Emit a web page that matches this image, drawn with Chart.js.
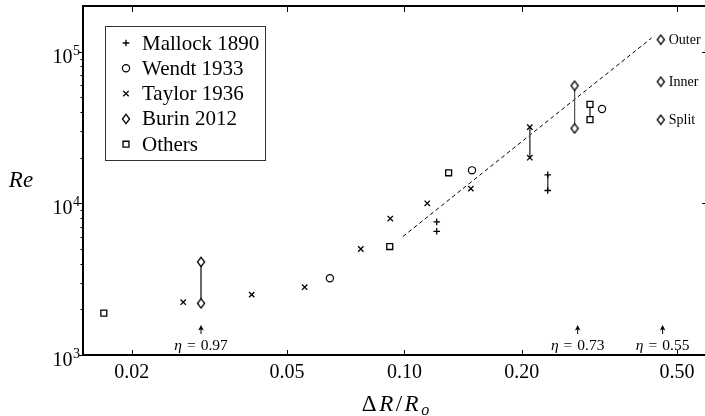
<!DOCTYPE html>
<html>
<head>
<meta charset="utf-8">
<script src="https://cdn.jsdelivr.net/npm/chart.js@4/dist/chart.umd.min.js"></script>
<style>
  html, body { margin: 0; padding: 0; background: #fff; overflow: hidden; }
  #wrap { width: 710px; height: 416px; }
</style>
</head>
<body>
<div id="wrap"><canvas id="re-chart" width="710" height="416"></canvas></div>
<script>
// Transition Reynolds number vs. relative gap width (log-log)
const mallockX = [0.121, 0.121, 0.233, 0.233];
const mallockRe = [7550, 6540, 15400, 12150];

const wendtX = [0.0644, 0.149, 0.321];
const wendtRe = [3210, 16500, 41900];

const taylorX = [0.0271, 0.0406, 0.0555, 0.0773, 0.092, 0.1144, 0.148, 0.2096, 0.2096];
const taylorRe = [2230, 2500, 2800, 5000, 7940, 10000, 12500, 31800, 20000];

const burinX = [0.0301, 0.0301, 0.273, 0.273];
const burinRe = [4110, 2190, 59700, 31200];

const othersX = [0.01696, 0.0917, 0.1298, 0.299, 0.299];
const othersRe = [1890, 5190, 15900, 44900, 35600];

// dashed trend line end points
const fitX = [0.0991, 0.430];
const fitRe = [6040, 123100];

// vertical bars joining paired measurements: [xs, ys, i, j]
const pairs = [
  [burinX, burinRe, 0, 1],
  [taylorX, taylorRe, 7, 8],
  [mallockX, mallockRe, 2, 3],
  [burinX, burinRe, 2, 3],
  [othersX, othersRe, 3, 4]
];

const seriesNames = ['Mallock 1890', 'Wendt 1933', 'Taylor 1936', 'Burin 2012', 'Others'];

const xTicks = [0.02, 0.05, 0.1, 0.2, 0.5];
const xTickLabels = ['0.02', '0.05', '0.10', '0.20', '0.50'];
const yTicks = [1e3, 1e4, 1e5];
const yMinorTicks = [2e3, 3e3, 4e3, 5e3, 6e3, 7e3, 8e3, 9e3, 2e4, 3e4, 4e4, 5e4, 6e4, 7e4, 8e4, 9e4];

// radius ratio markers
const etaX = [0.0301, 0.278, 0.459];
const etaLabels = ['0.97', '0.73', '0.55'];

// cylinder rotation key on the right
const keyX = 0.454;
const keyRe = [120000, 63400, 35600];
const keyLabels = ['Outer', 'Inner', 'Split'];

const SERIF = '"Liberation Serif", "Times New Roman", serif';

// narrow diamond marker
function makeDiamond() {
  const c = document.createElement('canvas');
  c.width = 10; c.height = 12;
  const g = c.getContext('2d');
  g.beginPath();
  g.moveTo(5, 1.3);
  g.lineTo(8.6, 6);
  g.lineTo(5, 10.7);
  g.lineTo(1.4, 6);
  g.closePath();
  g.fillStyle = '#fff';
  g.fill();
  g.lineWidth = 1.3;
  g.strokeStyle = '#000';
  g.stroke();
  return c;
}
const diamond = makeDiamond();

const markerStyles = [
  { pointStyle: 'cross', radius: 3.3, borderWidth: 1.3 },
  { pointStyle: 'circle', radius: 3.6, borderWidth: 1.2 },
  { pointStyle: 'crossRot', radius: 3.8, borderWidth: 1.3 },
  { pointStyle: diamond, radius: 5, borderWidth: 1.2 },
  { pointStyle: 'rect', radius: 4.2, borderWidth: 1.3 }
];

const toPoints = (xs, ys) => xs.map((x, i) => ({ x: x, y: ys[i] }));

const seriesData = [
  toPoints(mallockX, mallockRe),
  toPoints(wendtX, wendtRe),
  toPoints(taylorX, taylorRe),
  toPoints(burinX, burinRe),
  toPoints(othersX, othersRe)
];

const datasets = seriesData.map((data, k) => ({
  label: seriesNames[k],
  data: data,
  pointStyle: markerStyles[k].pointStyle,
  pointRadius: markerStyles[k].radius,
  pointHoverRadius: markerStyles[k].radius,
  pointBorderWidth: markerStyles[k].borderWidth,
  pointBorderColor: '#000',
  pointBackgroundColor: '#fff'
}));

pairs.forEach(p => {
  const xs = p[0], ys = p[1];
  datasets.push({
    label: 'pair',
    data: [{ x: xs[p[2]], y: ys[p[2]] }, { x: xs[p[3]], y: ys[p[3]] }],
    showLine: true,
    pointRadius: 0,
    borderColor: '#555',
    borderWidth: 1
  });
});

datasets.push({
  label: 'fit',
  data: toPoints(fitX, fitRe),
  showLine: true,
  pointRadius: 0,
  borderColor: '#000',
  borderWidth: 1,
  borderDash: [4, 3]
});

function drawMarker(ctx, k, x, y) {
  const m = markerStyles[k];
  ctx.save();
  ctx.fillStyle = '#fff';
  ctx.strokeStyle = '#000';
  ctx.lineWidth = m.borderWidth;
  Chart.helpers.drawPoint(ctx, { pointStyle: m.pointStyle, radius: m.radius, rotation: 0, borderWidth: m.borderWidth }, x, y);
  ctx.restore();
}

// axes frame, ticks, labels, legend and annotations
const decorations = {
  id: 'decorations',
  afterDraw(chart) {
    const ctx = chart.ctx;
    const a = chart.chartArea;
    const xs = chart.scales.x, ys = chart.scales.y;
    ctx.save();
    ctx.strokeStyle = '#000';
    ctx.fillStyle = '#000';

    // frame
    ctx.lineWidth = 2;
    ctx.strokeRect(a.left, a.top, a.right - a.left, a.bottom - a.top);

    // x ticks: inward on top and bottom
    ctx.lineWidth = 1;
    xTicks.forEach(v => {
      const px = Math.round(xs.getPixelForValue(v)) + 0.5;
      ctx.beginPath();
      ctx.moveTo(px, a.bottom); ctx.lineTo(px, a.bottom - 5);
      ctx.moveTo(px, a.top); ctx.lineTo(px, a.top + 6);
      ctx.stroke();
    });
    // y ticks: outward on left, inward on right
    yTicks.forEach(v => {
      const py = Math.round(ys.getPixelForValue(v)) + 0.5;
      ctx.beginPath();
      ctx.moveTo(a.left, py); ctx.lineTo(a.left - 4, py);
      ctx.moveTo(a.right, py); ctx.lineTo(a.right - 6, py);
      ctx.stroke();
    });
    yMinorTicks.forEach(v => {
      const py = Math.round(ys.getPixelForValue(v)) + 0.5;
      ctx.beginPath();
      ctx.moveTo(a.left, py); ctx.lineTo(a.left - 2.5, py);
      ctx.stroke();
    });

    // x tick labels
    ctx.font = '20px ' + SERIF;
    ctx.textAlign = 'center';
    ctx.textBaseline = 'middle';
    xTicks.forEach((v, i) => {
      ctx.fillText(xTickLabels[i], xs.getPixelForValue(v), a.bottom + 18);
    });

    // y tick labels as 10^n
    ctx.textAlign = 'right';
    ctx.textBaseline = 'alphabetic';
    yTicks.forEach(v => {
      const py = ys.getPixelForValue(v);
      const exp = String(Math.round(Math.log10(v)));
      ctx.font = '14px ' + SERIF;
      const ew = ctx.measureText(exp).width;
      ctx.fillText(exp, a.left - 3, py + 3);
      ctx.font = '20px ' + SERIF;
      ctx.fillText('10', a.left - 3 - ew - 0.5, py + 11);
    });

    // axis titles
    ctx.font = 'italic 23px ' + SERIF;
    ctx.textAlign = 'center';
    ctx.textBaseline = 'middle';
    ctx.fillText('Re', 21, (a.top + a.bottom) / 2);

    const parts = [
      ['\u0394', '23px ' + SERIF, 0],
      ['R', 'italic 23px ' + SERIF, 0],
      ['/', '23px ' + SERIF, 0],
      ['R', 'italic 23px ' + SERIF, 0],
      ['o', 'italic 16px ' + SERIF, 4]
    ];
    const gap = 2.5;
    let total = 0;
    parts.forEach(p => { ctx.font = p[1]; p.push(ctx.measureText(p[0]).width); total += p[3]; });
    total += gap * (parts.length - 1);
    let cx = (a.left + a.right) / 2 - total / 2;
    ctx.textAlign = 'left';
    ctx.textBaseline = 'alphabetic';
    parts.forEach(p => {
      ctx.font = p[1];
      ctx.fillText(p[0], cx, 411 + p[2]);
      cx += p[3] + gap;
    });

    // legend box
    const lx = 105.5, ly = 26.5, lw = 160, lh = 134;
    ctx.fillStyle = '#fff';
    ctx.fillRect(lx, ly, lw, lh);
    ctx.strokeStyle = '#333';
    ctx.lineWidth = 1;
    ctx.strokeRect(lx, ly, lw, lh);
    ctx.font = '21px ' + SERIF;
    ctx.textBaseline = 'middle';
    ctx.textAlign = 'left';
    seriesNames.forEach((name, k) => {
      const y = 43 + k * 25.3;
      drawMarker(ctx, k, 126, y);
      ctx.fillStyle = '#000';
      ctx.fillText(name, 142, y + 1);
    });

    // rotation key
    ctx.font = '14px ' + SERIF;
    keyLabels.forEach((lab, i) => {
      const px = xs.getPixelForValue(keyX);
      const py = ys.getPixelForValue(keyRe[i]);
      drawMarker(ctx, 3, px, py);
      ctx.fillStyle = '#000';
      ctx.fillText(lab, px + 8, py + 1);
    });

    // eta arrows and labels
    etaX.forEach((v, i) => {
      const px = xs.getPixelForValue(v);
      const tip = a.bottom - 30;
      ctx.strokeStyle = '#000';
      ctx.fillStyle = '#000';
      ctx.lineWidth = 1;
      ctx.beginPath();
      ctx.moveTo(px, tip + 3); ctx.lineTo(px, tip + 9);
      ctx.stroke();
      ctx.beginPath();
      ctx.moveTo(px, tip);
      ctx.lineTo(px + 2.8, tip + 5.5);
      ctx.lineTo(px, tip + 4.3);
      ctx.lineTo(px - 2.8, tip + 5.5);
      ctx.closePath();
      ctx.fill();

      const segs = [
        ['\u03B7', 'italic 15.5px ' + SERIF],
        ['=', '15.5px ' + SERIF],
        [etaLabels[i], '15.5px ' + SERIF]
      ];
      const sp = 5;
      let w = 0;
      segs.forEach(s => { ctx.font = s[1]; s.push(ctx.measureText(s[0]).width); w += s[2]; });
      w += sp * 2;
      let tx = px - w / 2;
      ctx.textAlign = 'left';
      ctx.textBaseline = 'alphabetic';
      segs.forEach(s => {
        ctx.font = s[1];
        ctx.fillText(s[0], tx, a.bottom - 5);
        tx += s[2] + sp;
      });
    });
    ctx.restore();
  }
};

new Chart(document.getElementById('re-chart'), {
  type: 'scatter',
  data: { datasets: datasets },
  options: {
    responsive: false,
    animation: false,
    events: [],
    layout: { autoPadding: false, padding: { top: 6, right: 2, left: 0, bottom: 0 } },
    plugins: {
      legend: { display: false },
      tooltip: { enabled: false }
    },
    scales: {
      x: {
        type: 'logarithmic',
        min: 0.015,
        max: 0.6,
        ticks: { display: false },
        grid: { display: false },
        border: { display: false },
        afterFit(scale) { scale.height = 61; }
      },
      y: {
        type: 'logarithmic',
        min: 1000,
        max: 200000,
        ticks: { display: false },
        grid: { display: false },
        border: { display: false },
        afterFit(scale) { scale.width = 83; }
      }
    }
  },
  plugins: [decorations]
});
</script>
</body>
</html>
